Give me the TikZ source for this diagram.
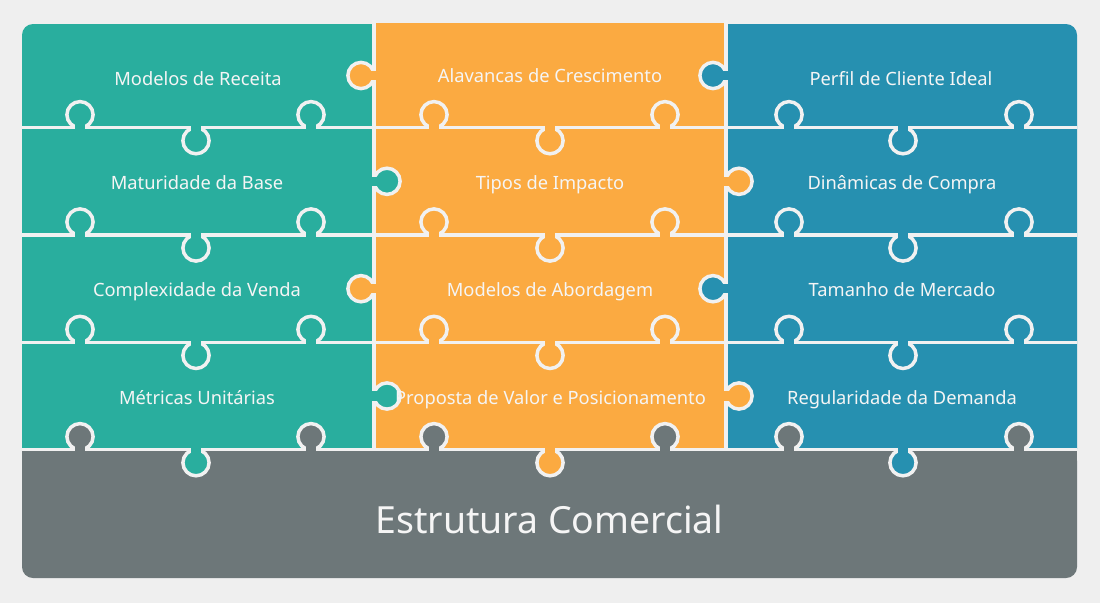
\documentclass[tikz,border=0pt]{standalone}
\usepackage{fontspec}
\setmainfont{Noto Sans}
\definecolor{bgc}{HTML}{EFEFEF}
\definecolor{linec}{HTML}{F1F1F1}
\definecolor{tealc}{HTML}{29AE9E}
\definecolor{orangec}{HTML}{FBAA41}
\definecolor{bluec}{HTML}{2690B0}
\definecolor{grayc}{HTML}{6D7779}
\definecolor{txtc}{HTML}{F5F5F5}
\newcommand{\knobV}[4]{%
  \filldraw[fill=#4,draw=linec,line width=3.5pt] ({#1},{#2+(#3)*13}) circle[radius=13.1pt];
  \fill[#4] ({#1-4.6},{#2-(#3)*2.5}) rectangle ({#1+4.6},{#2+(#3)*13});
}
\newcommand{\knobH}[4]{%
  \filldraw[fill=#4,draw=linec,line width=3.5pt] ({#1+(#3)*13},{#2}) circle[radius=13.1pt];
  \fill[#4] ({#1-(#3)*2.5},{#2-4.6}) rectangle ({#1+(#3)*13},{#2+4.6});
}
\tikzset{
  lbl/.style={text=txtc, font=\fontsize{18.3}{20}\selectfont, anchor=base, inner sep=0pt},
  biglbl/.style={text=txtc, font=\fontsize{37.4}{40}\selectfont, anchor=base, inner sep=0pt},
  sep/.style={draw=linec, line width=3.5pt}
}
\begin{document}
\begin{tikzpicture}[x=1pt,y=-1pt]
\useasboundingbox (0,0) rectangle (1100,603);
\fill[bgc] (0,0) rectangle (1100,603);
% column fills
\fill[tealc, rounded corners=11pt] (22,24) rectangle (374,460);
\fill[tealc] (60,24) rectangle (374,460);
\fill[orangec] (374,22.5) rectangle (726,460);
\fill[bluec, rounded corners=11pt] (726,24) rectangle (1077,460);
\fill[bluec] (726,24) rectangle (1040,460);
\fill[grayc, rounded corners=11pt] (22,449.7) rectangle (1077,578);
\fill[grayc] (22,449.7) rectangle (1077,480);
% separators
\foreach \y in {127.7,235,342.4,449.7}{\draw[sep] (22,\y) -- (1077,\y);}
\foreach \x in {374,726}{\draw[sep] (\x,20) -- (\x,449.7);}
% horizontal-boundary knobs
\foreach \y in {127.7,235,342.4}{
  \foreach \a/\b/\c/\col in {80/196/311/tealc, 434/550/665/orangec, 789/903/1019/bluec}{
    \knobV{\a}{\y}{-1}{\col}
    \knobV{\c}{\y}{-1}{\col}
    \knobV{\b}{\y}{1}{\col}
  }
}
\foreach \a/\b/\c/\col in {80/196/311/tealc, 434/550/665/orangec, 789/903/1019/bluec}{
  \knobV{\a}{449.7}{-1}{grayc}
  \knobV{\c}{449.7}{-1}{grayc}
  \knobV{\b}{449.7}{1}{\col}
}
% side knobs
\knobH{374}{75.5}{-1}{orangec}
\knobH{726}{75.5}{-1}{bluec}
\knobH{374}{181.3}{1}{tealc}
\knobH{726}{181.3}{1}{orangec}
\knobH{374}{288.7}{-1}{orangec}
\knobH{726}{288.7}{-1}{bluec}
\knobH{374}{396}{1}{tealc}
\knobH{726}{396}{1}{orangec}
% labels
\node[lbl] (t1) at (198,85) {Modelos de Receita};
\node[lbl] (t2) at (197,189.3) {Maturidade da Base};
\node[lbl] (t3) at (197,296.6) {Complexidade da Venda};
\node[lbl] (t4) at (197,404) {Métricas Unitárias};
\node[lbl] (o1) at (550,82) {Alavancas de Crescimento};
\node[lbl] (o2) at (550,189.3) {Tipos de Impacto};
\node[lbl] (o3) at (550,296.6) {Modelos de Abordagem};
\node[lbl] (o4) at (550.5,404) {Proposta de Valor e Posicionamento};
\node[lbl] (b1) at (901,85) {Perfil de Cliente Ideal};
\node[lbl] (b2) at (902,189.3) {Dinâmicas de Compra};
\node[lbl] (b3) at (902,296.6) {Tamanho de Mercado};
\node[lbl] (b4) at (902,404) {Regularidade da Demanda};
\node[biglbl] (g) at (549.5,533.3) {Estrutura Comercial};
\end{tikzpicture}
\end{document}
